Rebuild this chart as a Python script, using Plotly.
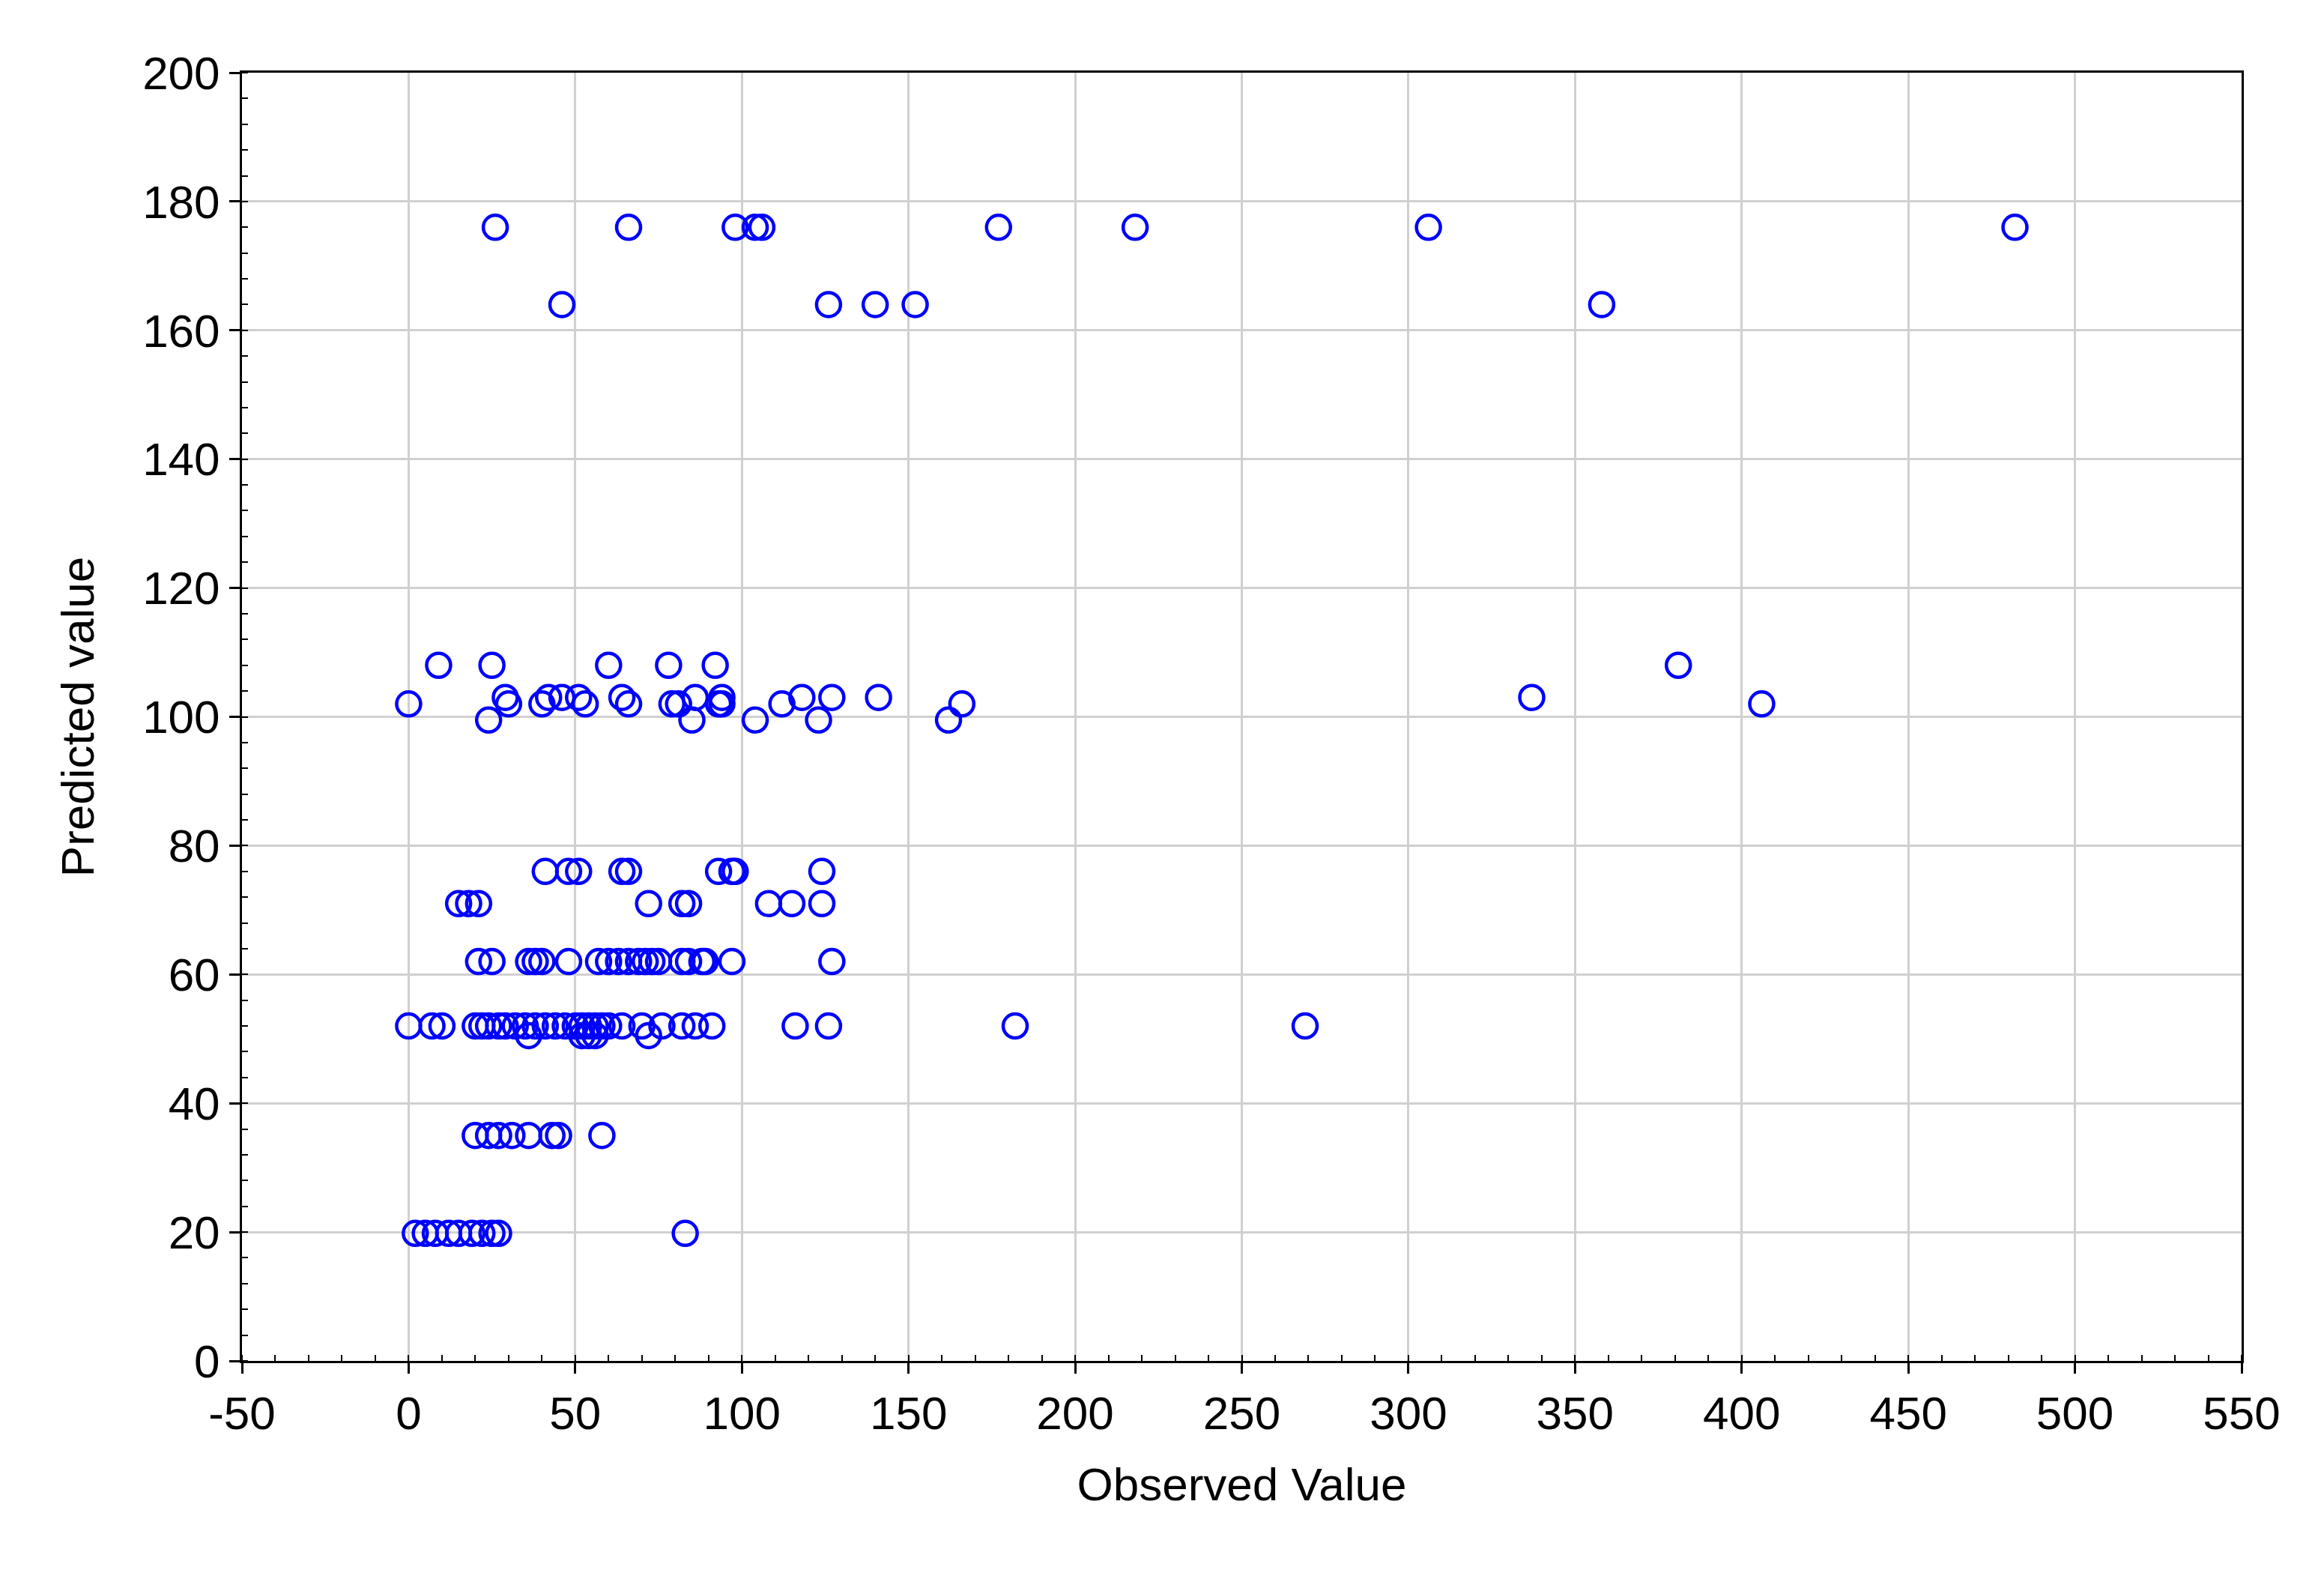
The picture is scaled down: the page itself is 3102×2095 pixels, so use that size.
import plotly.graph_objects as go

rows = {
    176: [26, 66, 98, 104, 106, 177, 218, 306, 482],
    164: [46, 126, 140, 152, 358],
    108: [9, 25, 60, 78, 92, 381],
    103: [29, 42, 46, 51, 64, 86, 94, 118, 127, 141, 337],
    102: [0, 30, 40, 53, 66, 79, 81, 93, 94, 112, 166, 406],
    99.5: [24, 85, 104, 123, 162],
    76: [41, 48, 51, 64, 66, 93, 97, 98, 124],
    71: [15, 18, 21, 72, 82, 84, 108, 115, 124],
    62: [21, 25, 36, 38, 40, 48, 57, 60, 63, 66, 69, 71, 73, 75, 82, 84, 88, 89, 97, 127],
    52: [0, 7, 10, 20, 22, 24, 27, 29, 32, 35, 38, 41, 44, 47, 50, 52, 54, 56, 58, 60,
         64, 70, 76, 82, 86, 91, 116, 126, 182, 269],
    50.5: [36, 52, 54, 56, 72],
    35: [20, 24, 27, 31, 36, 43, 45, 58],
    19.8: [2, 5, 8, 12, 15, 19, 22, 25, 27, 83],
}
x_ticks = list(range(-50, 551, 50))
x_tick_labels = [str(v) for v in x_ticks]

observed = []
predicted = []
for p, xs in rows.items():
    for x in xs:
        observed.append(x)
        predicted.append(p)

fig = go.Figure(go.Scatter(
    x=observed, y=predicted, mode="markers",
    marker=dict(symbol="circle-open", size=32, color="#0000ff", line=dict(width=4.5, color="#0000ff")),
))

font = dict(family="Liberation Sans, Arial", size=62, color="black")
axis_common = dict(
    showline=True, linecolor="black", linewidth=3, mirror=True,
    showgrid=True, gridcolor="#d0d0d0", gridwidth=3,
    ticks="outside", ticklen=14, tickwidth=3, tickcolor="black",
    minor=dict(ticks="inside", ticklen=8, tickwidth=2, tickcolor="black", showgrid=False),
    zeroline=False, tickfont=font,
)
fig.update_xaxes(range=[-50, 550], tickvals=x_ticks, ticktext=x_tick_labels,
                 title=dict(text="Observed Value", font=font, standoff=40), **axis_common)
fig.update_yaxes(range=[0, 200], dtick=20, title=dict(text="Predicted value", font=font, standoff=45), **axis_common)
fig.update_xaxes(minor=dict(dtick=10))
fig.update_yaxes(minor=dict(dtick=4))
fig.update_layout(
    width=3102, height=2095, showlegend=False,
    plot_bgcolor="white", paper_bgcolor="white",
    margin=dict(l=315, r=118, t=89, b=287),
    font=font,
)
fig.write_html("out.html")
